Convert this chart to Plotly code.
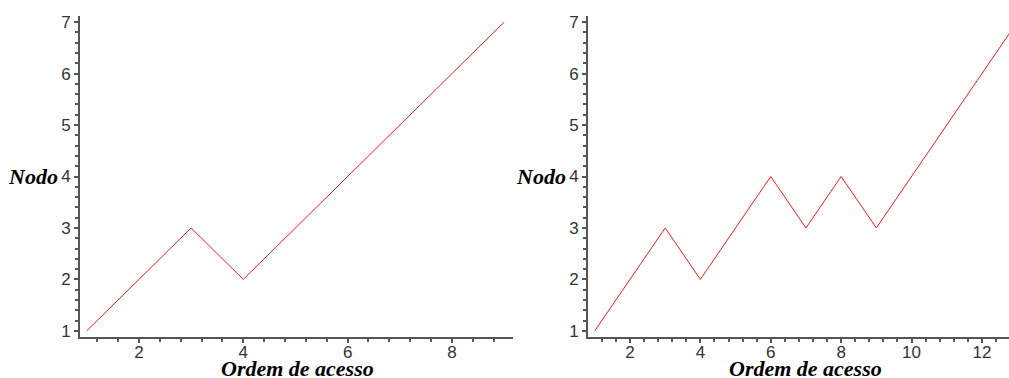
import plotly.graph_objects as go

ordem_esq = [1, 2, 3, 4, 5, 6, 7, 8, 9]
nodo_esq = [1, 2, 3, 2, 3, 4, 5, 6, 7]
ordem_dir = [1, 2, 3, 4, 5, 6, 7, 8, 9, 10, 11, 12, 13]
nodo_dir = [1, 2, 3, 2, 3, 4, 3, 4, 3, 4, 5, 6, 7]
x_label = "Ordem de acesso"
y_label = "Nodo"

W, H = 1009, 378
fig = go.Figure()
fig.add_trace(go.Scatter(x=ordem_esq, y=nodo_esq, mode="lines",
                         line=dict(color="#ff1a1a", width=1), xaxis="x", yaxis="y",
                         cliponaxis=True))
fig.add_trace(go.Scatter(x=ordem_dir, y=nodo_dir, mode="lines",
                         line=dict(color="#ff1a1a", width=1), xaxis="x2", yaxis="y2",
                         cliponaxis=True))

axcol = "#555555"
tickfont = dict(family="Liberation Sans", size=17, color="#333333")
titlefont = dict(family="Liberation Serif", size=22, color="#000000")

def xax(dom, rng, anchor):
    return dict(domain=dom, range=rng, showline=True, linecolor=axcol, linewidth=2,
                ticks="outside", ticklen=4, tickcolor=axcol, tickwidth=2,
                dtick=2, tick0=0, showgrid=False, zeroline=False,
                tickfont=tickfont, anchor=anchor, automargin=False,
                ticklabelstandoff=-5,
                minor=dict(dtick=0.4, tick0=0, ticks="outside", ticklen=3,
                           tickcolor=axcol, tickwidth=2, showgrid=False),
                fixedrange=True)

def yax(dom, rng, anchor):
    return dict(domain=dom, range=rng, showline=True, linecolor=axcol, linewidth=2,
                ticks="outside", ticklen=4, tickcolor=axcol, tickwidth=2,
                dtick=1, tick0=0, showgrid=False, zeroline=False,
                tickfont=tickfont, anchor=anchor, automargin=False,
                minor=dict(dtick=0.2, tick0=0, ticks="outside", ticklen=3,
                           tickcolor=axcol, tickwidth=2, showgrid=False),
                fixedrange=True)

ydom = [(H - 337) / H, (H - 16) / H]
fig.update_layout(
    width=W, height=H, margin=dict(l=0, r=0, t=0, b=0, autoexpand=False),
    paper_bgcolor="white", plot_bgcolor="white", showlegend=False,
    xaxis=xax([80 / W, 513 / W], [0.87, 9.17], "y"),
    yaxis=yax(ydom, [0.88, 7.12], "x"),
    xaxis2=xax([588 / W, 1.0], [0.807, 12.77], "y2"),
    yaxis2=yax(ydom, [0.88, 7.12], "x2"),
)

for yref, xpx in [("y", 60), ("y2", 568)]:
    fig.add_annotation(x=xpx / W, y=4, xref="paper", yref=yref, xanchor="right",
                       yanchor="middle", showarrow=False,
                       text="<b><i>" + y_label + "</i></b>", font=titlefont)

for xpx in [297, 805]:
    fig.add_annotation(x=xpx / W, y=(H - 383) / H, xref="paper", yref="paper",
                       xanchor="center", yanchor="bottom", showarrow=False,
                       text="<b><i>" + x_label + "</i></b>", font=titlefont)

fig.write_html("out.html", config={"displayModeBar": False},
               post_script="document.body.style.margin='0px';document.body.style.overflow='hidden';")
